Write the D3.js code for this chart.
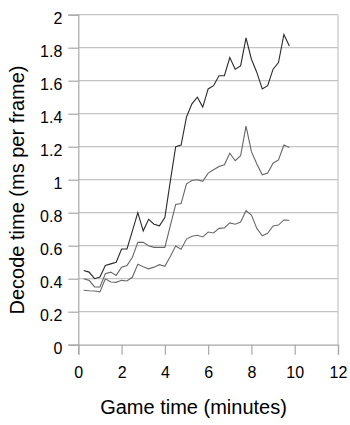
<!DOCTYPE html>
<html>
<head>
<meta charset="utf-8">
<script src="https://cdn.jsdelivr.net/npm/d3@7"></script>
<style>
  html, body { margin: 0; padding: 0; background: #fff; }
  svg { display: block; font-family: "Liberation Sans", Arial, sans-serif; }
</style>
</head>
<body>
<svg id="chart" width="350" height="425"></svg>
<script>
// Game time in minutes: one sample every 15 seconds
const minutes = [0.25, 0.5, 0.75, 1, 1.25, 1.5, 1.75, 2, 2.25, 2.5, 2.75, 3, 3.25, 3.5, 3.75, 4,
  4.25, 4.5, 4.75, 5, 5.25, 5.5, 5.75, 6, 6.25, 6.5, 6.75, 7, 7.25, 7.5, 7.75, 8,
  8.25, 8.5, 8.75, 9, 9.25, 9.5, 9.75];

// Decode time (ms per frame) for the three traces
const decodeHigh = [0.45, 0.44, 0.40, 0.41, 0.48, 0.49, 0.50, 0.58, 0.58, 0.69, 0.80, 0.69, 0.76, 0.73, 0.72, 0.77,
  0.99, 1.20, 1.21, 1.38, 1.46, 1.50, 1.44, 1.55, 1.57, 1.63, 1.63, 1.74, 1.67, 1.69, 1.86, 1.73,
  1.65, 1.55, 1.57, 1.67, 1.71, 1.88, 1.81];
const decodeMid = [0.40, 0.39, 0.35, 0.35, 0.43, 0.44, 0.42, 0.47, 0.48, 0.53, 0.62, 0.62, 0.60, 0.59, 0.59, 0.59,
  0.72, 0.85, 0.855, 0.975, 0.995, 1.00, 0.99, 1.04, 1.06, 1.08, 1.09, 1.16, 1.115, 1.145, 1.325, 1.17,
  1.095, 1.03, 1.04, 1.10, 1.12, 1.21, 1.195];
const decodeLow = [0.33, 0.327, 0.325, 0.32, 0.40, 0.38, 0.378, 0.39, 0.386, 0.41, 0.487, 0.473, 0.46, 0.47, 0.485, 0.475,
  0.535, 0.598, 0.579, 0.64, 0.657, 0.663, 0.653, 0.683, 0.677, 0.705, 0.708, 0.738, 0.73, 0.743, 0.812, 0.786,
  0.705, 0.66, 0.675, 0.72, 0.725, 0.756, 0.754];

const xTicks = [0, 2, 4, 6, 8, 10, 12];
const yTicks = [0, 0.2, 0.4, 0.6, 0.8, 1, 1.2, 1.4, 1.6, 1.8, 2];

const series = [
  { values: decodeLow, color: "#6a6a6a" },
  { values: decodeMid, color: "#666666" },
  { values: decodeHigh, color: "#2a2a2a" }
];

const svg = d3.select("#chart");
const x = d3.scaleLinear().domain([0, 12]).range([78.3, 338]);
const y = d3.scaleLinear().domain([0, 2]).range([344.7, 14.7]);

const gridColor = "#c4c4c4";
const axisColor = "#a8a8a8";

// horizontal gridlines
svg.append("g")
  .selectAll("line")
  .data(yTicks.filter(d => d > 0))
  .join("line")
  .attr("x1", x(0)).attr("x2", x(12))
  .attr("y1", d => y(d)).attr("y2", d => y(d))
  .attr("stroke", gridColor).attr("stroke-width", 1.2);

// right border of plot area
svg.append("line")
  .attr("x1", x(12)).attr("x2", x(12))
  .attr("y1", y(0)).attr("y2", y(2))
  .attr("stroke", gridColor).attr("stroke-width", 1.2);

// y axis
const yAxis = svg.append("g")
  .attr("transform", `translate(${x(0)},0)`)
  .call(d3.axisLeft(y).tickValues(yTicks).tickSize(10).tickPadding(6)
    .tickFormat(d => d3.format("")(+d.toFixed(1))));
yAxis.select(".domain").attr("stroke", axisColor).attr("stroke-width", 1.2);
yAxis.selectAll(".tick line").attr("stroke", axisColor).attr("stroke-width", 1.2);
yAxis.selectAll(".tick text")
  .attr("fill", "#000").attr("font-size", 16)
  .attr("dy", "0.52em");

// x axis
const xAxis = svg.append("g")
  .attr("transform", `translate(0,${y(0)})`)
  .call(d3.axisBottom(x).tickValues(xTicks).tickSize(10).tickPadding(12));
xAxis.select(".domain").attr("stroke", axisColor).attr("stroke-width", 1.2);
xAxis.selectAll(".tick line").attr("stroke", axisColor).attr("stroke-width", 1.2);
xAxis.selectAll(".tick text").attr("fill", "#000").attr("font-size", 16);

// data lines
const line = d3.line()
  .x((d, i) => x(minutes[i]))
  .y(d => y(d));

svg.append("g")
  .selectAll("path")
  .data(series)
  .join("path")
  .attr("d", d => line(d.values))
  .attr("fill", "none")
  .attr("stroke", d => d.color)
  .attr("stroke-width", 1.1)
  .attr("stroke-linejoin", "miter");

// axis titles
svg.append("text")
  .attr("x", 193.5).attr("y", 414)
  .attr("text-anchor", "middle")
  .attr("font-size", 20)
  .text("Game time (minutes)");

svg.append("text")
  .attr("transform", "translate(24,190) rotate(-90)")
  .attr("text-anchor", "middle")
  .attr("font-size", 20)
  .text("Decode time (ms per frame)");
</script>
</body>
</html>
